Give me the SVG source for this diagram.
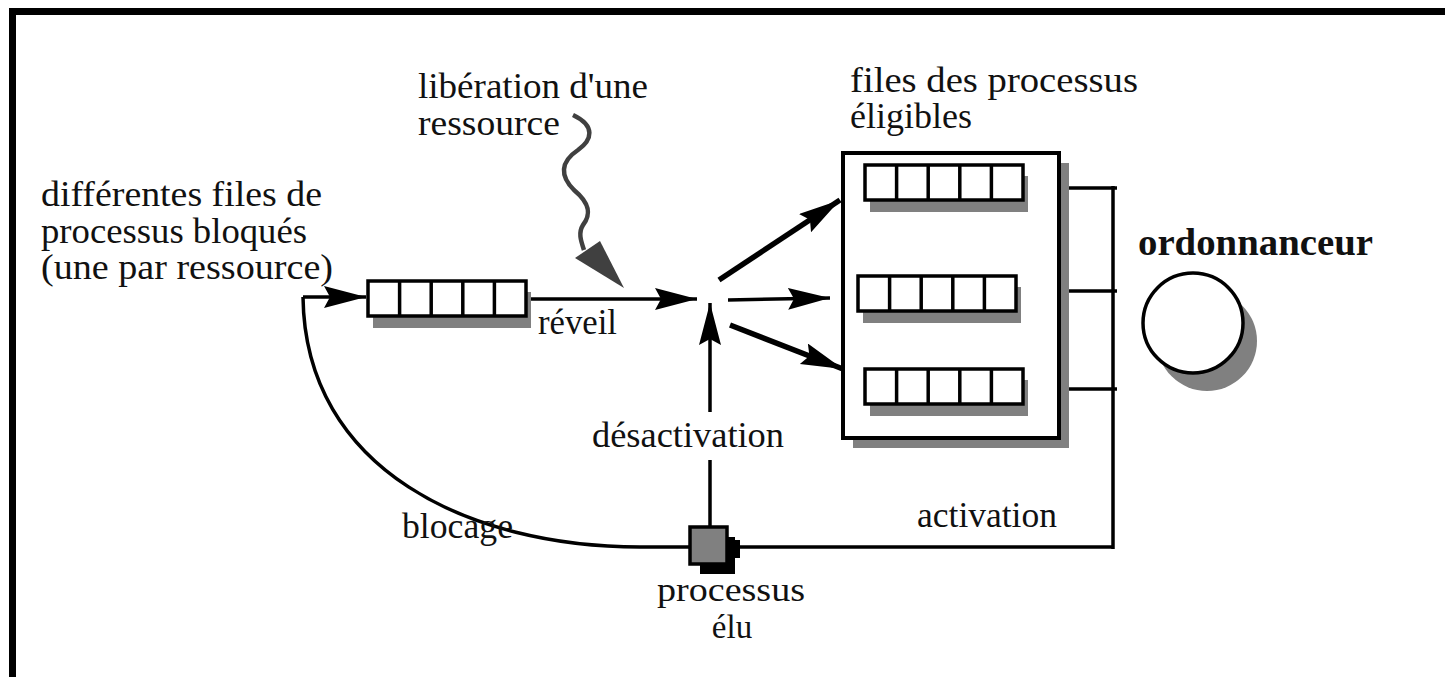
<svg xmlns="http://www.w3.org/2000/svg" width="1445" height="677" viewBox="0 0 1445 677">
<defs>
<style>
.t{font-family:"Liberation Serif","Times New Roman",serif;font-size:35px;fill:#111}
.ts{font-family:"Liberation Serif","Times New Roman",serif;font-size:33px;fill:#111}
.tb{font-family:"Liberation Serif","Times New Roman",serif;font-size:37px;font-weight:bold;fill:#111}
.ln{fill:none;stroke:#000;stroke-width:3.5}
.thick{fill:none;stroke:#000;stroke-width:5.5}
.cell{fill:#fff;stroke:#000;stroke-width:3.5}
.sh{fill:#808080}
</style>
<marker id="ah" markerUnits="userSpaceOnUse" markerWidth="44" markerHeight="24" refX="42" refY="11" orient="auto">
<path d="M0,0 L42,11 L0,22 L6,11 z" fill="#000"/>
</marker>
<g id="q">
<rect class="sh" x="5" y="11" width="158" height="36"/>
<rect class="cell" x="0" y="0" width="158" height="35"/>
<line class="ln" x1="31.6" y1="0" x2="31.6" y2="35"/>
<line class="ln" x1="63.2" y1="0" x2="63.2" y2="35"/>
<line class="ln" x1="94.8" y1="0" x2="94.8" y2="35"/>
<line class="ln" x1="126.4" y1="0" x2="126.4" y2="35"/>
</g>
</defs>
<rect width="1445" height="677" fill="#fff"/>
<path d="M12.5,677 L12.5,11.5 L1445,11.5" fill="none" stroke="#000" stroke-width="7"/>

<g id="connectors">
<path class="ln" d="M303,297 L366,297" marker-end="url(#ah)"/>
<path class="ln" d="M528,299 L697,299" marker-end="url(#ah)"/>
<path class="ln" d="M710,526 L710,460"/>
<path class="ln" d="M710,412 L710,303" marker-end="url(#ah)"/>
<path class="thick" d="M719,280 L840,200" marker-end="url(#ah)"/>
<path class="ln" d="M728,300 L830,298" marker-end="url(#ah)"/>
<path class="thick" d="M730,325 L843,369" marker-end="url(#ah)"/>
<path class="ln" d="M303,297 C 305,470 470,547 640,547 L690,547"/>
<path class="ln" d="M727,547 L1113,547"/>
<path class="ln" d="M1113,186 L1113,549"/>
<path class="ln" d="M1023,188 L1117,188"/>
<path class="ln" d="M1017,291 L1117,291"/>
<path class="ln" d="M1023,389 L1117,389"/>
<path d="M573,115 C 596,126 592,140 578,150 C 560,162 560,176 574,190 C 592,205 590,216 583,225 C 578,233 581,241 584,250" fill="none" stroke="#404040" stroke-width="4.5"/>
<polygon points="575,258 600,241 624,288" fill="#404040"/>
</g>

<g id="blocked-queue"><use href="#q" x="368" y="281"/></g>

<g id="ready-box">
<rect class="sh" x="853" y="163" width="216" height="285"/>
<rect x="843" y="153" width="216" height="285" fill="#fff" stroke="#000" stroke-width="4"/>
<use href="#q" x="865" y="165"/>
<use href="#q" x="858" y="276"/>
<use href="#q" x="865" y="369"/>
</g>

<g id="scheduler">
<circle class="sh" cx="1207" cy="341" r="50"/>
<circle cx="1193" cy="323" r="50" fill="#fff" stroke="#000" stroke-width="3.5"/>
<text class="tb" x="1138" y="255" textLength="235" lengthAdjust="spacingAndGlyphs">ordonnanceur</text>
</g>

<g id="elected">
<rect x="700" y="537" width="35" height="37" fill="#000"/>
<rect x="730" y="540" width="10" height="18" fill="#000"/>
<rect x="690" y="527" width="37" height="37" fill="#808080" stroke="#000" stroke-width="3.5"/>
<text class="ts" x="657" y="601" textLength="148" lengthAdjust="spacingAndGlyphs">processus</text>
<text class="ts" x="732" y="638" text-anchor="middle">élu</text>
</g>

<g id="labels">
<text class="t" x="41" y="206" textLength="281" lengthAdjust="spacingAndGlyphs">différentes files de</text>
<text class="t" x="41" y="243" textLength="266" lengthAdjust="spacingAndGlyphs">processus bloqués</text>
<text class="t" x="41" y="279" textLength="292" lengthAdjust="spacingAndGlyphs">(une par ressource)</text>
<text class="t" x="418" y="98" textLength="230" lengthAdjust="spacingAndGlyphs">libération d'une</text>
<text class="t" x="418" y="135" textLength="142" lengthAdjust="spacingAndGlyphs">ressource</text>
<text class="t" x="850" y="92" textLength="288" lengthAdjust="spacingAndGlyphs">files des processus</text>
<text class="t" x="850" y="128" textLength="122" lengthAdjust="spacingAndGlyphs">éligibles</text>
<text class="t" x="538" y="334" textLength="79" lengthAdjust="spacingAndGlyphs">réveil</text>
<text class="t" x="592" y="447" textLength="192" lengthAdjust="spacingAndGlyphs">désactivation</text>
<text class="t" x="402" y="538" textLength="111" lengthAdjust="spacingAndGlyphs">blocage</text>
<text class="t" x="917" y="527" textLength="140" lengthAdjust="spacingAndGlyphs">activation</text>
</g>
</svg>
